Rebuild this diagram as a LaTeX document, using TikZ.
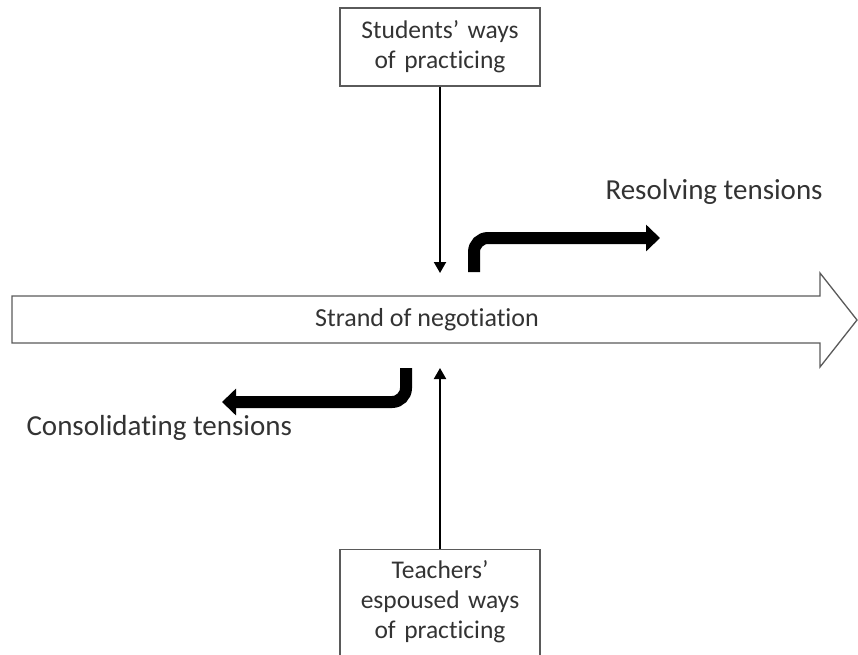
\documentclass[tikz,border=0pt]{standalone}
\usepackage{fontspec}
\setmainfont{Carlito}[Ligatures=NoCommon]
\usetikzlibrary{arrows.meta}

\definecolor{inkgray}{HTML}{333333}
\definecolor{edgegray}{HTML}{5A5A5A}

\tikzset{
  practice box/.style={draw=edgegray, line width=1.3pt, text=inkgray,
    text width=192pt, align=center, inner xsep=4pt,
    font=\fontsize{25.5}{30}\selectfont},
  label text/.style={text=inkgray, font=\fontsize{29}{34}\selectfont},
  strand text/.style={text=inkgray, font=\fontsize{26}{30}\selectfont},
  thin arrow/.style={draw=black, line width=2pt,
    -{Triangle[length=11pt,width=12pt]}},
  tension arrow/.style={draw=black, line width=12pt, rounded corners=14pt,
    -{Triangle[length=14pt,width=26pt]}}
}

\begin{document}
\begin{tikzpicture}[x=1pt, y=-1pt]
\useasboundingbox (0,0) rectangle (858,654);
\clip (0,0) rectangle (858,654);

% strand arrow
\draw[edgegray, line width=1.3pt, fill=white]
  (12,296) -- (820,296) -- (820,273) -- (857,320) -- (820,367)
  -- (820,343) -- (12,343) -- cycle;
\node[strand text] (strand) at (427,320) {Strand of negotiation};

\node[practice box, minimum height=78pt] (students) at (440,47)
  {Students’ ways of practicing};
\node[practice box, anchor=north, inner ysep=11pt, text depth=85pt] (teachers) at (440,549)
  {Teachers’\\ espoused ways of practicing};

\coordinate (down end) at (440,273);
\coordinate (up end)   at (440,368);
\coordinate (res start) at (474,272);
\coordinate (res end)   at (660,238);
\coordinate (con start) at (406,368);
\coordinate (con end)   at (222,402);

\node[label text, anchor=west] (resolving) at (602,192) {Resolving tensions};
\node[label text, anchor=west] (consolidating) at (23,428) {Consolidating tensions};

\draw[thin arrow] (students.south -| down end) -- (down end);
\draw[thin arrow] (teachers.north -| up end) -- (up end);
\draw[tension arrow] (res start) |- (res end);
\draw[tension arrow] (con start) |- (con end);
\end{tikzpicture}
\end{document}
